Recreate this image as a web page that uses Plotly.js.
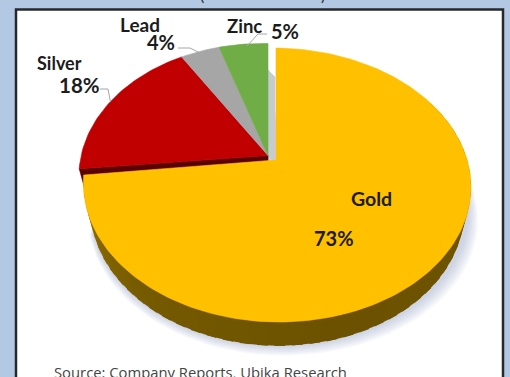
<!DOCTYPE html>
<html>
<head>
<meta charset="utf-8">
<script src="https://cdn.plot.ly/plotly-3.0.1.min.js"></script>
<style>html,body{margin:0;padding:0;background:#b3c8e2;overflow:hidden}#chart{width:510px;height:377px}</style>
</head>
<body>
<div id="chart"></div>
<script>
// Revenue mix by metal, drawn as a tilted pie with a raised front wall.
const categories = ['Gold', 'Silver', 'Lead', 'Zinc'];
const shares = [73, 18, 4, 5];
const topColors = ['#FFC000', '#C00000', '#A6A6A6', '#70AD47'];
const sourceNote = 'Source: Company Reports, Ubika Research';

// Perspective model of the disc, in axis units that run with the page.
const TILT = 0.1825, RX = 191.7, RY = 132.4, DEPTH = 24, WALL_NARROW = 0.965;
const GOLD_VIEW = {apex: [276, 160], sx: 1, sxLeft: 0.988, shear: 0.01};
const REST_VIEW = {apex: [268, 155.5], sx: 0.97, sxLeft: 0.97, shear: 0.02};

function rimPoint(frac, v) {
  const phi = 2 * Math.PI * frac, X = Math.sin(phi), Y = Math.cos(phi), w = TILT * Y + 1;
  const dx = (X < 0 ? v.sxLeft : v.sx) * RX * X / w;
  return [v.apex[0] + dx, v.apex[1] - RY * Y / w + v.shear * dx];
}
function arc(f0, f1, v, stepDeg) {
  const n = Math.max(2, Math.ceil((f1 - f0) * 360 / (stepDeg || 1.5))), pts = [];
  for (let i = 0; i <= n; i++) pts.push(rimPoint(f0 + (f1 - f0) * i / n, v));
  return pts;
}
function lowerRim(p, v) {
  return [v.apex[0] + (p[0] - v.apex[0]) * WALL_NARROW, p[1] + DEPTH];
}
function poly(pts, color, opacity, lineWidth) {
  return {
    type: 'scatter', mode: 'lines', x: pts.map(p => p[0]), y: pts.map(p => p[1]),
    fill: 'toself', fillcolor: color, opacity: opacity === undefined ? 1 : opacity,
    line: {color: color, width: lineWidth === undefined ? 0.6 : lineWidth}, hoverinfo: 'skip', showlegend: false
  };
}
function leader(xs, ys) {
  return {type: 'scatter', mode: 'lines', x: xs, y: ys, line: {color: '#A6A6A6', width: 1}, hoverinfo: 'skip', showlegend: false};
}
function mix(a, b, t) {
  return 'rgb(' + a.map((v, i) => Math.round(v + (b[i] - v) * t)).join(',') + ')';
}

// Slice boundaries as fractions of the full turn, clockwise from twelve o'clock.
const total = shares.reduce((s, v) => s + v, 0);
const edges = [0];
shares.forEach(v => edges.push(edges[edges.length - 1] + v / total));

const traces = [];

// Soft shadow falling under the disc.
for (let i = 0; i < 6; i++) {
  const off = DEPTH + 1 + i * 1.7;
  const shadowView = {apex: [GOLD_VIEW.apex[0] + 1 + i * 0.6, GOLD_VIEW.apex[1] + off], sx: 0.985 + i * 0.006, sxLeft: 0.96 + i * 0.005, shear: 0.01};
  traces.push(poly(arc(0.05, 0.7, shadowView, 3), '#7f8fb5', 0.07, 0));
}

// Gold front wall, shaded segment by segment along the rim.
const wallStops = [[0.17, [112, 86, 0]], [0.45, [108, 82, 0]], [0.6, [118, 90, 0]], [0.73, [150, 116, 0]]];
function wallColor(f) {
  for (let i = 1; i < wallStops.length; i++) {
    if (f <= wallStops[i][0]) {
      const t = Math.max(0, (f - wallStops[i - 1][0]) / (wallStops[i][0] - wallStops[i - 1][0]));
      return mix(wallStops[i - 1][1], wallStops[i][1], t);
    }
  }
  return mix(wallStops[3][1], wallStops[3][1], 0);
}
const segs = 45, wallStart = 0.17;
for (let i = 0; i < segs; i++) {
  const f0 = wallStart + (edges[1] - wallStart) * i / segs;
  const f1 = wallStart + (edges[1] - wallStart) * (i + 1.6) / segs;
  const a = rimPoint(f0, GOLD_VIEW), b = rimPoint(Math.min(f1, edges[1]), GOLD_VIEW);
  traces.push(poly([a, b, lowerRim(b, GOLD_VIEW), lowerRim(a, GOLD_VIEW), a], wallColor(f0), 1, 0));
}

// Cut faces of the pulled-apart slices: pale wall behind zinc, dark wall under silver.
traces.push(poly([[268, 70], [275, 77], [275, 160], [268, 158], [268, 70]], '#C6CBD2'));
const silverLow = rimPoint(edges[1], REST_VIEW);
traces.push(poly([REST_VIEW.apex, silverLow, [silverLow[0] + 5, silverLow[1] + 18], [REST_VIEW.apex[0], REST_VIEW.apex[1] + 6], REST_VIEW.apex], '#5A0000'));

// Top faces of silver, lead and zinc, then gold over them.
for (let i = 1; i < shares.length; i++) {
  const pts = [REST_VIEW.apex].concat(arc(edges[i], edges[i + 1], REST_VIEW)).concat([REST_VIEW.apex]);
  traces.push(poly(pts, topColors[i]));
}
traces.push(poly([GOLD_VIEW.apex].concat(arc(edges[0], edges[1], GOLD_VIEW)).concat([GOLD_VIEW.apex]), topColors[0]));

// Leader lines for the small-slice labels.
traces.push(leader([100, 108, 110.5], [89, 89, 102]));
traces.push(leader([178, 190, 202], [48, 48, 54]));
traces.push(leader([267, 258, 247], [34, 34, 46]));

function label(text, x, y, size, color, anchor, family) {
  return {
    text: text, x: x, y: y, xref: 'x', yref: 'y', showarrow: false,
    xanchor: anchor || 'center', yanchor: 'middle',
    font: {family: family || 'Lato, Carlito, sans-serif', size: size, color: color || '#1c1c1c'}
  };
}
const pct = i => '<b>' + shares[i] + '%</b>';
const name = i => '<b>' + categories[i] + '</b>';
const annotations = [
  label(name(0), 371, 198, 19.5),
  label(pct(0), 334, 238, 20),
  label(name(1), 59, 63, 18),
  label(pct(1), 79.5, 85, 20.5),
  label(name(2), 140, 24, 19),
  label(pct(2), 160.5, 42, 20),
  label(name(3), 244.5, 26, 18.5),
  label(pct(3), 285, 31, 20),
  label(sourceNote, 52, 372, 14.8, '#444444', 'left', '"Open Sans", sans-serif')
];
// The heading sits above the frame; only the tails of its brackets reach the page.
['(', ')'].forEach((b, i) => {
  annotations.push(Object.assign(label(b, i ? 323 : 202, 0, 16, '#333333'), {yshift: 6}));
});

const layout = {
  width: 510, height: 377,
  margin: {l: 0, r: 0, t: 0, b: 0, pad: 0},
  paper_bgcolor: '#b3c8e2', plot_bgcolor: 'rgba(0,0,0,0)',
  showlegend: false,
  xaxis: {range: [0, 510], visible: false, fixedrange: true},
  yaxis: {range: [377, 0], visible: false, fixedrange: true},
  shapes: [{type: 'rect', layer: 'below', xref: 'x', yref: 'y', x0: 16, x1: 503, y0: 9.5, y1: 400,
    fillcolor: '#ffffff', line: {color: '#26282b', width: 2.5}}],
  annotations: annotations
};
Plotly.newPlot('chart', traces, layout, {staticPlot: true, displayModeBar: false});
</script>
</body>
</html>
